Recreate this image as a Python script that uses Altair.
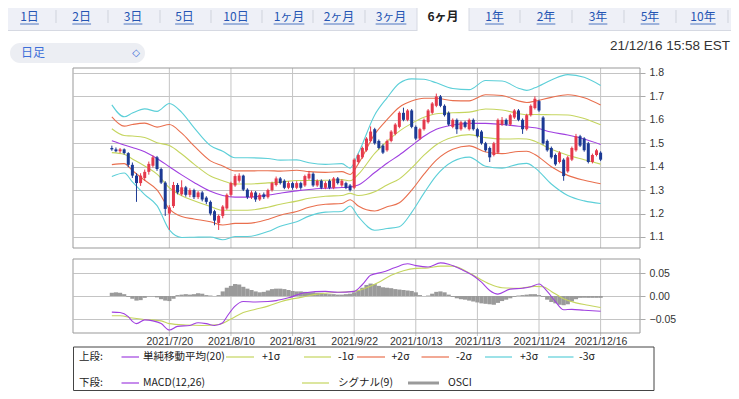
import altair as alt
import pandas as pd

# ---------------- data ----------------
idx = list(range(120))
opens = [1.480,1.474,1.466,1.474,1.458,1.408,1.362,1.330,1.352,1.378,1.404,1.440,1.390,1.332,1.200,1.232,1.322,1.282,1.312,1.280,
         1.300,1.270,1.290,1.268,1.250,1.210,1.160,1.190,1.222,1.280,1.320,1.340,1.362,1.302,1.270,1.290,1.260,1.282,1.270,1.300,
         1.322,1.350,1.340,1.310,1.330,1.310,1.330,1.320,1.350,1.370,1.320,1.340,1.310,1.340,1.310,1.350,1.320,1.330,1.320,1.310,
         1.420,1.440,1.470,1.510,1.560,1.510,1.490,1.470,1.510,1.540,1.570,1.630,1.600,1.640,1.570,1.520,1.560,1.590,1.630,1.660,
         1.700,1.660,1.630,1.570,1.600,1.560,1.590,1.560,1.600,1.560,1.550,1.500,1.480,1.450,1.460,1.580,1.600,1.580,1.610,1.640,
         1.600,1.560,1.620,1.650,1.680,1.610,1.510,1.480,1.450,1.420,1.430,1.380,1.430,1.470,1.530,1.520,1.500,1.420,1.450,1.460]
highs = [1.490,1.482,1.480,1.478,1.462,1.418,1.372,1.372,1.388,1.422,1.448,1.446,1.396,1.338,1.236,1.335,1.330,1.342,1.318,1.308,
         1.306,1.296,1.296,1.274,1.256,1.216,1.196,1.236,1.286,1.336,1.368,1.372,1.366,1.308,1.298,1.296,1.288,1.290,1.306,1.336,
         1.358,1.356,1.346,1.338,1.336,1.338,1.336,1.366,1.382,1.376,1.346,1.346,1.338,1.346,1.356,1.356,1.346,1.336,1.326,1.436,
         1.456,1.486,1.526,1.572,1.566,1.516,1.496,1.516,1.556,1.586,1.636,1.652,1.646,1.646,1.576,1.566,1.606,1.646,1.676,1.712,
         1.706,1.666,1.636,1.606,1.606,1.596,1.596,1.606,1.606,1.566,1.556,1.506,1.486,1.506,1.606,1.612,1.606,1.626,1.646,1.646,
         1.606,1.626,1.666,1.700,1.686,1.616,1.516,1.486,1.456,1.466,1.436,1.446,1.486,1.540,1.536,1.526,1.506,1.456,1.476,1.466]
lows = [1.468,1.462,1.458,1.452,1.398,1.352,1.250,1.318,1.340,1.366,1.396,1.382,1.326,1.190,1.130,1.224,1.282,1.276,1.272,1.270,
        1.262,1.262,1.252,1.240,1.192,1.150,1.130,1.180,1.216,1.272,1.314,1.332,1.296,1.262,1.262,1.250,1.254,1.262,1.264,1.294,
        1.316,1.324,1.304,1.304,1.302,1.304,1.302,1.314,1.344,1.314,1.314,1.304,1.304,1.304,1.304,1.324,1.314,1.304,1.294,1.304,
        1.414,1.434,1.464,1.504,1.494,1.474,1.454,1.464,1.504,1.534,1.564,1.594,1.594,1.564,1.514,1.514,1.554,1.584,1.624,1.654,
        1.654,1.614,1.574,1.564,1.540,1.554,1.564,1.554,1.554,1.524,1.494,1.464,1.420,1.444,1.454,1.574,1.574,1.574,1.604,1.594,
        1.540,1.554,1.614,1.644,1.634,1.494,1.464,1.434,1.404,1.414,1.340,1.374,1.424,1.464,1.484,1.464,1.414,1.414,1.444,1.424]
closes = [1.474,1.466,1.474,1.458,1.408,1.362,1.330,1.362,1.378,1.412,1.440,1.390,1.332,1.220,1.226,1.322,1.290,1.312,1.280,1.300,
          1.270,1.290,1.260,1.250,1.200,1.170,1.190,1.230,1.280,1.330,1.360,1.362,1.302,1.270,1.290,1.260,1.280,1.270,1.300,1.330,
          1.350,1.330,1.310,1.330,1.310,1.330,1.310,1.360,1.370,1.320,1.340,1.310,1.330,1.310,1.350,1.330,1.340,1.310,1.300,1.430,
          1.450,1.480,1.520,1.550,1.500,1.480,1.460,1.510,1.550,1.580,1.630,1.600,1.640,1.570,1.520,1.560,1.600,1.640,1.670,1.700,
          1.660,1.620,1.580,1.600,1.560,1.590,1.570,1.600,1.560,1.530,1.500,1.470,1.440,1.500,1.600,1.600,1.580,1.620,1.640,1.600,
          1.560,1.620,1.660,1.690,1.640,1.500,1.470,1.440,1.410,1.460,1.360,1.440,1.480,1.530,1.490,1.470,1.420,1.450,1.470,1.430]

band_idx = [0,3,5,8,11,14,17,20,24,27,30,33,38,41,45,48,52,56,58,60,64,67,70,73,76,79,83,87,91,95,99,101,103,107,111,115,119]
band_mid = [1.511,1.493,1.482,1.464,1.435,1.400,1.365,1.333,1.295,1.277,1.270,1.270,1.279,1.287,1.297,1.303,1.308,1.311,1.313,1.322,
            1.375,1.415,1.450,1.490,1.530,1.560,1.578,1.585,1.585,1.580,1.573,1.570,1.566,1.548,1.535,1.518,1.495]
band_sigma = [0.051,0.040,0.049,0.061,0.067,0.090,0.089,0.078,0.065,0.063,0.056,0.056,0.052,0.047,0.044,0.038,0.034,0.034,0.027,0.045,
              0.082,0.093,0.102,0.095,0.081,0.066,0.052,0.048,0.061,0.062,0.054,0.052,0.057,0.074,0.086,0.088,0.084]

macd_idx = [0,2,4,5,6,8,10,12,14,16,19,21,23,25,27,28,30,32,35,38,40,43,47,52,55,59,61,63,66,69,72,74,77,80,82,85,88,90,92,94,97,100,102,104,106,108,110,112,115,117,119]
macd_vals = [-0.035,-0.036,-0.045,-0.055,-0.060,-0.052,-0.054,-0.060,-0.074,-0.066,-0.064,-0.058,-0.060,-0.064,-0.058,-0.045,-0.022,-0.012,-0.013,-0.012,
             -0.010,-0.004,0.007,0.010,0.008,0.010,0.025,0.045,0.052,0.062,0.070,0.066,0.063,0.072,0.069,0.058,0.044,0.030,0.012,0.004,
             0.015,0.017,0.020,0.026,0.010,-0.012,-0.030,-0.029,-0.031,-0.032,-0.033]
signal_idx = [0,2,5,8,12,14,18,22,26,29,32,35,38,42,46,50,55,59,62,65,68,71,74,77,80,83,86,89,92,95,99,103,105,107,110,113,116,119]
signal_vals = [-0.043,-0.043,-0.048,-0.051,-0.054,-0.060,-0.063,-0.064,-0.062,-0.050,-0.036,-0.029,-0.022,-0.010,-0.003,0.004,0.008,0.010,0.018,0.030,
               0.045,0.055,0.060,0.061,0.065,0.065,0.055,0.040,0.026,0.018,0.017,0.021,0.020,0.010,-0.006,-0.015,-0.020,-0.025]
osci_vals = [0.007,0.008,0.007,0.004,-0.002,-0.006,-0.010,-0.009,-0.004,-0.001,-0.001,-0.003,-0.007,-0.010,-0.011,-0.006,0.002,0.003,0.004,0.003,
             0.004,0.006,0.005,0.002,0.001,0.000,0.002,0.010,0.018,0.022,0.026,0.025,0.020,0.016,0.013,0.010,0.008,0.009,0.012,0.015,
             0.016,0.016,0.015,0.013,0.011,0.010,0.010,0.009,0.008,0.008,0.007,0.007,0.005,0.004,0.004,0.003,0.003,0.004,0.005,0.008,
             0.012,0.018,0.024,0.027,0.026,0.022,0.019,0.018,0.017,0.015,0.014,0.013,0.012,0.011,0.008,0.002,0.000,0.001,0.005,0.009,
             0.010,0.008,0.003,-0.002,-0.005,-0.007,-0.008,-0.010,-0.012,-0.014,-0.016,-0.017,-0.018,-0.019,-0.015,-0.011,-0.008,-0.005,-0.002,0.001,
             0.002,0.003,0.004,0.004,0.002,-0.002,-0.008,-0.013,-0.016,-0.019,-0.020,-0.018,-0.012,-0.007,-0.004,-0.004,-0.004,-0.004,-0.004,-0.004]

tick_idx = [14, 29, 44, 59, 74, 89, 104, 119]
tick_labels = ["2021/7/20", "2021/8/10", "2021/8/31", "2021/9/22", "2021/10/13", "2021/11/3", "2021/11/24", "2021/12/16"]
price_ticks = [1.1, 1.2, 1.3, 1.4, 1.5, 1.6, 1.7, 1.8]
macd_ticks = [-0.05, 0.0, 0.05]

tabs = ["1日", "2日", "3日", "5日", "10日", "1ヶ月", "2ヶ月", "3ヶ月", "6ヶ月", "1年", "2年", "3年", "5年", "10年"]
tab_x = [29.5, 81.7, 133, 184.5, 236, 289, 339, 391, 443, 494.5, 546, 598, 650, 703]
active_tab = "6ヶ月"

legend_row1 = [("単純移動平均(20)", "#a040e0"), ("+1σ", "#c5d55f"), ("-1σ", "#c5d55f"),
               ("+2σ", "#e96f4e"), ("-2σ", "#e96f4e"), ("+3σ", "#5ccfd8"), ("-3σ", "#5ccfd8")]
legend_row2 = [("MACD(12,26)", "#a040e0"), ("シグナル(9)", "#c5d55f"), ("OSCI", "#9a9a9a")]

# ---------------- styling / layout ----------------
OX, OY = 73, 68            # page position of the price panel
W, H = 567, 180
PURPLE, YEL, RED, CYAN = "#a040e0", "#c5d55f", "#e96f4e", "#5ccfd8"
UP, DOWN, GRAY = "#e5394c", "#1c3a94", "#9a9a9a"
JP = "Noto Sans CJK JP"
LAT = "Liberation Sans"

dummy = alt.Data(values=[{"a": 1}])


def px(x):
    return x - OX


def py(y):
    return y - OY


def vtext(x, y, text, size=12, color="#333", align="left", font=JP, weight="normal"):
    return alt.Chart(dummy).mark_text(align=align, baseline="middle", fontSize=size, color=color,
                                      font=font, fontWeight=weight).encode(
        x=alt.value(px(x)), y=alt.value(py(y)), text=alt.value(text))


def vrule(x, y, x2, y2, color, width=1.0):
    return alt.Chart(dummy).mark_rule(color=color, strokeWidth=width).encode(
        x=alt.value(px(x)), y=alt.value(py(y)), x2=alt.value(px(x2)), y2=alt.value(py(y2)))


def vrect(x, y, x2, y2, fill, stroke="#ffffff", sw=0, radius=0, fop=1.0):
    return alt.Chart(dummy).mark_rect(fill=fill, fillOpacity=fop, stroke=stroke, strokeWidth=sw,
                                      cornerRadius=radius).encode(
        x=alt.value(px(x)), y=alt.value(py(y)), x2=alt.value(px(x2)), y2=alt.value(py(y2)))


# scales & axes
xscale = alt.Scale(domain=[-8.24, 127.37], nice=False, zero=False)
yscale = alt.Scale(domain=[1.053, 1.8213], nice=False, zero=False)
mscale = alt.Scale(domain=[-0.05, 0.05], range=[251, 205], nice=False, zero=False)

expr = ""
for i, l in zip(tick_idx, tick_labels):
    expr += f"datum.value == {i} ? '{l}' : "
expr += "''"

xaxis = alt.Axis(values=tick_idx, labelExpr=expr, orient="bottom", offset=85, grid=False, domain=False,
                 ticks=False, labelPadding=3, labelFontSize=10.5, labelColor="#333", labelFont=LAT,
                 title=None, labelOverlap=False, labelFlush=False)
yaxis = alt.Axis(orient="right", values=price_ticks, format=".1f", grid=True, gridColor="#c4c4c4",
                 domain=False, ticks=True, tickSize=5, tickColor="#aaaaaa", labelPadding=4,
                 labelFontSize=10.5, labelColor="#333", labelFont=LAT, title=None)
maxis = alt.Axis(orient="right", values=macd_ticks, format=".2f", grid=True, gridColor="#c4c4c4",
                 domain=False, ticks=True, tickSize=5, tickColor="#aaaaaa", labelPadding=4,
                 labelFontSize=10.5, labelColor="#333", labelFont=LAT, title=None)


def X():
    return alt.X("idx:Q", scale=xscale, axis=xaxis)


# ---------------- background decorations ----------------
back = []
# tab bar
back.append(vrect(0, 8, 739, 30, "#eef0f7"))
back.append(vrule(0, 30.5, 739, 30.5, "#d6d9e2"))
back.append(vrect(417, 8, 469, 31, "#ffffff"))
back.append(vrule(417, 8, 417, 31, "#d6d9e2"))
back.append(vrule(469, 8, 469, 31, "#d6d9e2"))
for sx in [56, 108, 160, 211, 262, 313, 365, 520, 572, 624, 676, 728]:
    back.append(vrule(sx, 10, sx, 23, "#cfd3dc"))
for t, tx in zip(tabs, tab_x):
    if t == active_tab:
        back.append(vtext(tx, 17, t, size=12, color="#222", align="center", weight="bold"))
    else:
        back.append(vtext(tx, 17, t, size=12, color="#2455b3", align="center"))
        wdt = sum(6.7 if ch.isdigit() else 12 for ch in t)
        back.append(vrule(tx - wdt / 2, 24, tx + wdt / 2, 24, "#2455b3", 0.8))
# dropdown + timestamp
back.append(vrect(10, 43, 145, 63, "#eceef3", radius=10))
back.append(vtext(21, 53, "日足", size=12, color="#3d6fd9"))
back.append(vtext(136, 53, "◇", size=10, color="#3d6fd9", align="center", font="DejaVu Sans"))
back.append(vtext(730, 46, "21/12/16 15:58 EST", size=13.5, color="#333", align="right", font=LAT))

# panel frames & vertical grid lines
grid_df = pd.DataFrame({"idx": tick_idx})
vgrid_top = alt.Chart(grid_df).mark_rule(color="#c4c4c4").encode(x=X(), y=alt.value(0), y2=alt.value(H))
vgrid_bot = alt.Chart(grid_df).mark_rule(color="#c4c4c4").encode(x=X(), y=alt.value(191), y2=alt.value(268))

# ---------------- price panel ----------------
bands = pd.DataFrame({"idx": band_idx, "mid": band_mid, "sigma": band_sigma})
bbase = alt.Chart(bands).transform_calculate(
    p1="datum.mid + datum.sigma", m1="datum.mid - datum.sigma",
    p2="datum.mid + 2*datum.sigma", m2="datum.mid - 2*datum.sigma",
    p3="datum.mid + 3*datum.sigma", m3="datum.mid - 3*datum.sigma")
band_layers = []
for f, c in [("p3", CYAN), ("m3", CYAN), ("p2", RED), ("m2", RED), ("p1", YEL), ("m1", YEL), ("mid", PURPLE)]:
    band_layers.append(bbase.mark_line(color=c, strokeWidth=1.1, interpolate="monotone").encode(
        x=X(), y=alt.Y(f + ":Q", scale=yscale, axis=yaxis)))

cdf = pd.DataFrame({"idx": idx, "open": opens, "high": highs, "low": lows, "close": closes})
cbase = alt.Chart(cdf).transform_calculate(dir="datum.close >= datum.open ? 'up' : 'down'")
cscale = alt.Scale(domain=["up", "down"], range=[UP, DOWN])
wicks = cbase.mark_rule(strokeWidth=1).encode(
    x=X(), y=alt.Y("low:Q", scale=yscale, axis=yaxis), y2="high:Q",
    color=alt.Color("dir:N", scale=cscale, legend=None))
bodies = cbase.mark_bar(size=3).encode(
    x=X(), y=alt.Y("open:Q", scale=yscale, axis=yaxis), y2="close:Q",
    color=alt.Color("dir:N", scale=cscale, legend=None))

price = alt.layer(vgrid_top, *band_layers, wicks, bodies)

# ---------------- MACD panel ----------------
hdf = pd.DataFrame({"idx": idx, "osci": osci_vals})
hist = alt.Chart(hdf).mark_bar(size=4.2, color=GRAY).encode(
    x=X(), y=alt.Y("osci:Q", scale=mscale, axis=maxis), y2=alt.datum(0))
mdf = pd.DataFrame({"idx": macd_idx, "macd": macd_vals})
sdf = pd.DataFrame({"idx": signal_idx, "signal": signal_vals})
mline = alt.Chart(mdf).mark_line(color=PURPLE, strokeWidth=1.1, interpolate="monotone").encode(
    x=X(), y=alt.Y("macd:Q", scale=mscale, axis=maxis))
sline = alt.Chart(sdf).mark_line(color=YEL, strokeWidth=1.1, interpolate="monotone").encode(
    x=X(), y=alt.Y("signal:Q", scale=mscale, axis=maxis))

macd = alt.layer(vgrid_bot, hist, sline, mline)

# ---------------- foreground decorations ----------------
front = []
front.append(vrect(73, 68, 640, 248, "#ffffff", stroke="#999999", sw=1, fop=0))
front.append(vrect(73, 259, 640, 333, "#ffffff", stroke="#999999", sw=1, fop=0))
# legend box (page ends at y=391 inside the 8px margin)
front.append(vrect(73.5, 347, 654, 390.5, "#ffffff", stroke="#444444", sw=1, fop=0))
r1y, r2y = 357, 383
front.append(vtext(79, r1y, "上段:", size=10.5, color="#222"))
front.append(vtext(79, r2y, "下段:", size=10.5, color="#222"))
row1_lines = [(121.5, 139), (226, 254), (304, 331), (357, 385), (421.5, 449), (485, 512), (548, 573.5)]
row1_text = [143, 262, 338, 391.5, 456, 520, 579]
for (lab, col), (a, b), tx in zip(legend_row1, row1_lines, row1_text):
    front.append(vrule(a, r1y, b, r1y, col, 1.2))
    front.append(vtext(tx, r1y, lab, size=10.5, color="#222"))
row2_lines = [(121.5, 139), (302, 329), (408, 439)]
row2_text = [143, 338, 448]
for (lab, col), (a, b), tx in zip(legend_row2, row2_lines, row2_text):
    front.append(vrule(a, r2y, b, r2y, col, 3 if lab == "OSCI" else 1.2))
    front.append(vtext(tx, r2y, lab, size=10.5, color="#222"))

chart = alt.layer(*back, price, macd, *front).resolve_scale(y="independent").properties(
    width=W, height=H,
    autosize=alt.AutoSizeParams(type="none"),
    padding={"left": OX - 8, "top": OY - 8, "right": 731 - OX - W, "bottom": 391 - OY - H},
    background="#ffffff",
).configure_view(stroke=None)

chart.save("out.html", embed_options={"renderer": "svg", "actions": False})
